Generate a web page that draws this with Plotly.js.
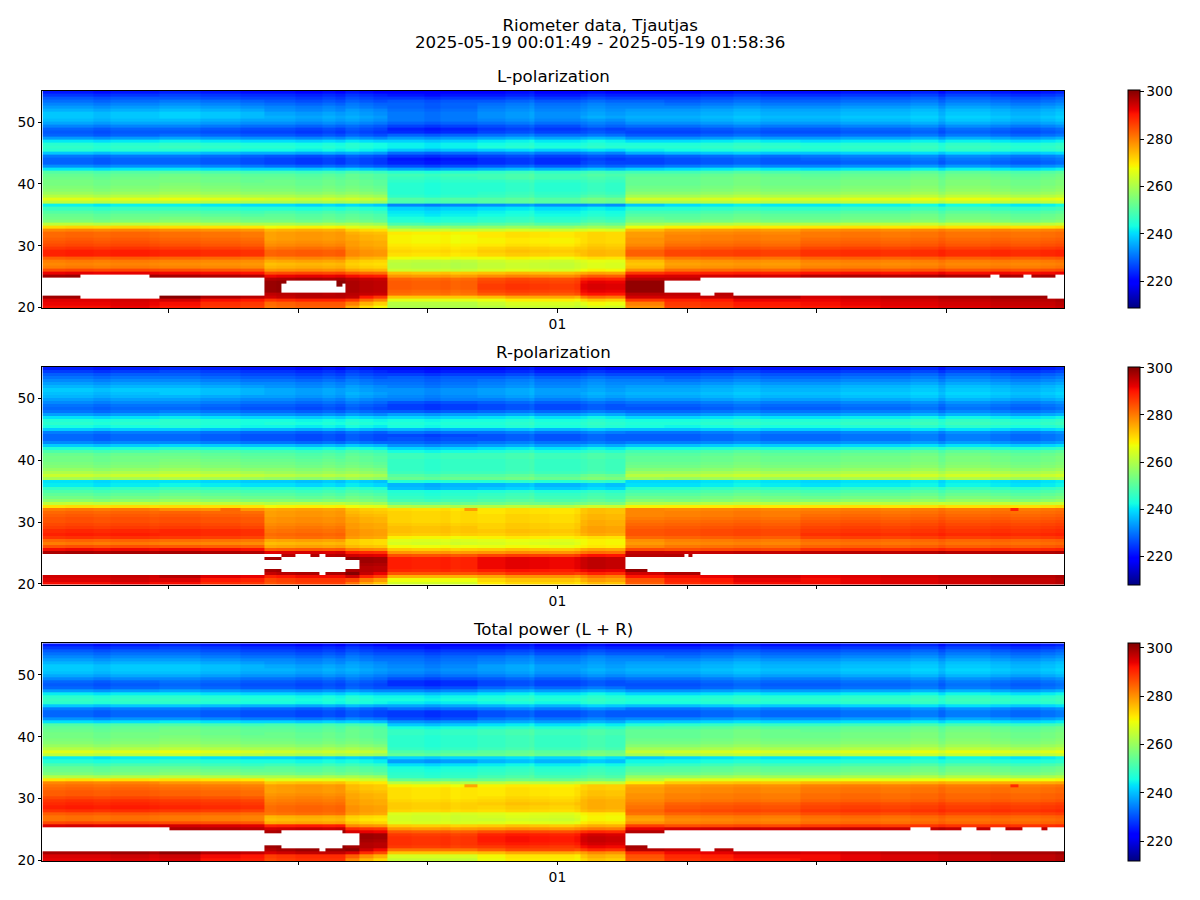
<!DOCTYPE html>
<html>
<head>
<meta charset="utf-8">
<script src="https://cdn.plot.ly/plotly-3.0.1.min.js"></script>
<style>html,body{margin:0;padding:0;background:#fff}</style>
</head>
<body>
<div id="chart" style="width:1200px;height:900px"></div>
<script>
// Block edges in minutes after 2025-05-19 00:00
const blockEdges = [0.44,13.97,26.12,35.48,40.34,50.75,62.66,67.86,72.37,88.1,118.63];
const tickMinutes = [15,30,45,60,75,90,105];
const tickLabels = ['','','','01','','',''];
const colorRanges = {L:[208.6,300.5], R:[208,300.4], T:[211.7,302]};

// Fine vertical streaks seen in the picture: edges in minutes, then the temperature step of each streak
const stripeEdges = [0.44,3.1,6.34,8.31,12.82,13.97,18.71,23.34,26.12,27.5,29.7,32.82,34.33,35.48,37.1,38.72,
40.34,43.12,44.62,46.47,47.63,48.78,50.75,53.99,56.76,57.34,59.07,61.97,62.66,63.47,65.55,67.86,70.18,72.37,
76.54,80.35,83.48,88.1,92.73,97.35,100.82,104.06,104.87,110.07,112.39,115.86,117.59,118.63];
const coldShift = [0,0,-1,0,0,1,0,-1, 0,0,-1,0,-1, 2,1,0, 1,1,0,1,1,1, 1,2,3,1,1,1, 1,2,1, 0,0,-1,0,1,0, -1,0,0,1,-1,1,0,-1,0,1];
const warmShift = [0,0.5,0,0.5,0,0.5,0,-0.5, -0.5,0,0.5,0,0.5, 1,0,-0.5, 0.5,0,0,0.5,-0.5,0, -0.5,0.5,0,0,-0.5,0.5, -0.5,0.5,0, 0,0,-0.5,0,0.5,0, -0.5,0,-0.5,0,1,0,0.5,0,0.5,1];
const lowShift  = [0,0,0,1,0,3,0,-1, -1,0,1,1,1, 5,0,-3, 0,0,0,0,0,0, -1,1,1,1,1,0, -1,1,0, 0,0,-1,0,2,2, -3,-2,-1,-1,0,0,1,1,1,2];

// Temperature profile per block, top frequency row to bottom row
const L_0 = [222,225,228,230,232,234,236,238,238,237,
235,232,229,228,229,234,241,245,246,245,
238,231,229,229,233,241,250,252,253,254,
254,255,256,258,261,266,262,242,247,250,
252,253,255,262,271,279,282,282,283,284,
285,287,289,289,283,280,279,280,285,292,
298,298,298,298,298,298,298,298,293,292,
291];
const L_1 = [222,225,227,230,232,234,236,238,238,236,
234,231,228,227,229,234,241,245,246,244,
237,230,228,228,232,240,249,252,253,253,
254,255,256,258,261,266,261,241,246,249,
251,253,255,261,270,278,281,281,282,283,
284,286,288,288,282,279,278,279,284,291,
297,298,298,298,298,298,298,297,291,288,
287];
const L_2 = [221,224,226,228,230,232,233,235,236,235,
233,230,227,226,228,233,240,244,245,243,
236,228,226,226,230,239,248,251,252,253,
253,254,255,257,260,264,260,240,245,249,
251,252,254,260,268,275,277,277,277,278,
279,281,283,283,279,276,274,275,278,285,
292,297,299,299,299,299,296,295,288,283,
282];
const L_3 = [220,223,225,227,229,230,232,233,234,233,
231,228,226,225,227,232,239,243,243,241,
234,227,225,225,228,237,247,250,250,251,
251,252,253,255,258,262,258,238,244,247,
249,250,252,258,265,271,274,275,275,276,
276,277,278,278,275,272,271,272,275,282,
290,295,296,296,296,296,295,290,282,275,
271];
const L_4 = [219,221,224,227,228,228,229,230,230,230,
228,225,222,223,228,233,238,241,241,237,
229,224,221,222,226,234,244,247,246,245,
244,244,244,244,245,249,248,231,238,240,
241,243,244,248,256,263,269,268,268,268,
269,270,271,270,267,262,261,261,263,273,
277,282,283,283,283,282,281,273,266,261,
260];
const L_5 = [219,221,224,227,229,230,231,232,232,231,
229,226,224,225,229,234,240,242,243,238,
230,225,223,223,227,235,245,247,247,245,
244,244,244,245,246,249,249,232,239,241,
242,244,245,249,257,264,270,270,269,269,
270,272,273,272,268,264,263,263,265,274,
279,285,286,287,287,286,284,275,268,264,
262];
const L_6 = [219,222,225,228,230,231,232,233,234,232,
230,228,225,226,229,235,241,243,244,239,
231,226,224,225,228,236,246,248,247,246,
245,245,245,246,248,252,251,232,240,242,
243,245,247,251,258,265,271,271,271,271,
272,273,274,274,270,266,265,265,268,276,
283,289,292,293,293,292,290,281,272,267,
264];
const L_7 = [220,223,226,229,231,232,234,235,236,235,
233,230,227,226,228,233,240,244,245,242,
236,228,226,226,230,239,248,251,252,252,
252,253,254,256,259,264,260,238,245,248,
250,252,254,259,267,274,277,277,278,278,
279,281,283,283,278,274,273,274,278,287,
293,296,299,299,299,299,296,294,287,280,
278];
const L_8 = [221,224,227,229,231,233,235,236,237,236,
234,231,228,227,229,234,241,245,246,244,
238,230,228,228,232,241,249,252,253,253,
253,254,255,257,260,265,261,241,246,249,
251,252,254,261,269,277,279,280,280,281,
282,284,286,286,281,278,277,278,282,289,
294,296,297,297,297,297,296,295,290,288,
287];
const L_9 = [222,225,228,230,232,234,236,237,238,237,
235,232,229,228,230,235,241,245,246,245,
239,232,230,229,233,241,250,252,253,254,
254,255,256,258,261,266,262,242,247,250,
252,253,255,262,270,279,281,281,282,283,
284,286,288,288,283,280,279,280,284,291,
297,298,298,298,298,298,298,297,295,294,
293];

const R_0 = [222,225,228,230,232,234,236,238,237,236,
234,232,230,229,230,234,240,244,245,243,
238,231,229,229,232,238,244,249,252,253,
253,254,255,257,260,263,259,240,241,246,
249,251,253,256,262,270,280,282,283,284,
284,285,286,288,289,287,282,280,284,291,
297,298,298,298,298,298,298,298,294,293,
291];
const R_1 = [222,225,227,229,231,233,235,237,237,235,
233,231,229,228,230,234,240,244,244,243,
237,230,228,228,231,238,244,249,251,252,
253,254,255,257,260,263,259,239,241,246,
249,251,253,256,262,270,278,282,283,284,
284,285,286,288,288,286,281,279,283,291,
297,298,298,298,298,298,298,298,293,290,
288];
const R_2 = [221,224,226,228,230,232,233,235,235,234,
232,230,228,227,229,233,239,243,244,242,
236,229,227,227,230,237,243,248,250,251,
252,253,254,256,258,261,257,238,240,245,
248,250,252,255,261,268,276,277,277,278,
278,279,280,281,282,281,276,274,276,283,
293,296,298,298,298,298,298,296,290,286,
285];
const R_3 = [220,223,225,227,229,230,232,233,234,233,
231,229,227,226,228,232,238,242,243,241,
235,228,226,226,229,236,242,247,249,250,
250,251,252,254,256,259,256,237,239,244,
247,249,251,253,259,266,272,273,274,275,
275,276,276,277,277,276,271,271,273,279,
288,293,298,298,297,296,296,295,289,280,
276];
const R_4 = [219,221,224,227,228,229,230,232,232,231,
230,226,224,224,227,233,238,242,243,242,
235,229,225,226,228,232,238,242,246,246,
245,245,245,245,246,249,251,243,235,236,
243,244,245,247,252,260,270,271,271,271,
271,272,273,273,272,268,265,264,267,272,
277,284,289,289,289,289,288,284,275,267,
264];
const R_5 = [219,221,224,227,229,230,231,233,233,232,
230,227,225,225,228,233,239,242,243,242,
235,229,226,226,229,233,239,243,246,246,
245,245,245,245,246,249,251,243,235,237,
243,245,246,248,253,261,270,270,271,271,
271,272,272,273,272,269,266,265,267,273,
278,286,292,292,292,292,290,286,277,272,
270];
const R_6 = [219,222,225,228,230,231,232,233,234,233,
231,228,226,226,229,234,240,243,244,243,
236,230,227,227,229,234,240,244,247,247,
246,246,246,246,247,251,253,244,236,238,
244,246,247,249,254,263,273,273,274,274,
275,275,276,276,275,270,268,268,269,276,
281,290,295,295,295,295,292,288,280,276,
273];
const R_7 = [220,223,226,229,231,232,234,235,236,235,
233,230,228,227,229,233,239,243,244,243,
237,230,228,228,231,237,243,248,250,251,
251,252,253,255,258,261,258,239,240,245,
248,250,252,255,260,268,279,279,279,280,
281,282,283,284,284,282,278,277,279,285,
295,296,299,299,299,299,299,294,290,284,
283];
const R_8 = [221,224,227,229,231,233,235,236,237,236,
234,231,229,228,230,234,240,244,245,243,
238,231,229,229,232,238,244,249,251,252,
252,253,254,256,259,262,258,240,241,246,
249,251,253,255,261,269,279,280,280,281,
282,283,284,285,285,283,280,279,281,285,
295,297,298,298,298,298,298,298,292,290,
289];
const R_9 = [222,225,228,230,232,234,236,237,238,237,
235,232,230,229,231,235,241,245,246,244,
239,232,230,230,233,239,245,250,252,253,
253,254,255,257,260,263,259,240,241,246,
249,251,253,256,262,270,280,281,282,283,
284,285,286,287,288,286,282,281,283,288,
296,298,298,298,298,298,298,298,295,294,
294];

const T_0 = [225,228,231,233,235,237,239,241,241,240,
238,235,232,231,232,237,244,248,249,248,
241,234,232,232,236,243,252,254,255,256,
256,257,258,260,263,268,264,244,247,251,
254,255,257,263,272,281,283,284,285,285,
287,289,290,291,289,285,283,283,287,295,
299,299,299,299,299,299,299,299,299,295,
294];
const T_1 = [225,228,230,232,234,236,238,240,240,239,
237,234,232,231,232,237,243,247,248,247,
240,233,231,231,235,243,251,254,255,255,
256,257,258,260,263,268,264,243,247,250,
253,255,257,263,272,279,282,283,284,284,
286,288,289,290,288,284,282,282,286,295,
298,299,299,299,299,299,299,299,298,293,
292];
const T_2 = [224,227,229,231,233,235,236,238,239,238,
236,233,231,230,231,236,242,246,247,246,
239,232,230,230,234,242,251,253,254,255,
255,256,257,259,262,266,262,242,246,250,
253,254,256,262,268,275,279,279,279,280,
281,282,283,284,284,283,277,276,278,291,
296,299,300,300,300,300,300,299,296,289,
288];
const T_3 = [223,226,228,230,232,233,235,236,237,236,
234,232,230,229,230,235,241,245,246,245,
238,231,229,229,233,240,249,252,253,253,
253,254,255,257,260,264,260,240,244,248,
251,252,254,260,266,272,275,275,276,277,
277,278,278,279,279,278,273,272,274,280,
289,294,300,300,299,298,298,296,290,280,
276];
const T_4 = [222,224,227,229,231,232,233,234,235,234,
232,229,226,226,229,234,240,244,245,243,
237,232,227,227,229,235,240,245,248,248,
247,247,247,247,248,251,253,241,236,242,
245,246,247,248,254,263,270,272,272,272,
272,273,274,274,273,267,266,266,267,274,
279,285,288,289,289,289,288,283,275,267,
265];
const T_5 = [222,224,227,229,232,233,234,236,236,235,
233,230,228,228,231,236,242,245,246,244,
238,233,229,229,232,236,242,246,249,249,
248,248,248,248,249,252,253,241,238,243,
246,247,248,250,255,264,271,272,272,272,
273,274,275,274,273,268,267,266,268,275,
280,287,291,292,292,291,289,286,277,271,
270];
const T_6 = [222,225,228,230,233,234,235,236,237,236,
234,231,229,229,232,237,243,246,247,246,
240,234,230,230,233,237,243,247,250,250,
249,249,249,249,250,254,255,242,239,244,
247,248,249,251,256,265,274,274,275,275,
276,277,277,277,276,271,270,270,272,277,
282,290,295,296,296,295,293,289,280,276,
274];
const T_7 = [223,226,229,231,234,235,237,238,239,238,
236,233,231,230,231,236,242,246,247,246,
240,233,231,231,235,241,247,252,254,254,
254,255,256,258,261,265,261,241,245,248,
252,253,255,260,264,271,278,279,279,280,
280,281,282,283,284,283,279,278,280,288,
294,298,299,299,299,299,299,298,290,286,
285];
const T_8 = [224,227,230,232,234,236,238,239,240,239,
237,234,232,231,232,237,243,247,248,247,
241,234,232,232,236,242,249,253,255,255,
255,256,257,259,262,267,263,243,246,250,
253,254,256,261,268,275,280,281,281,282,
282,283,285,286,287,285,282,281,282,287,
296,298,299,299,299,299,298,298,294,291,
290];
const T_9 = [225,228,231,233,235,237,239,240,241,240,
238,235,233,232,233,238,244,248,249,248,
242,235,233,233,237,243,250,254,255,256,
256,257,258,260,263,268,264,244,247,251,
254,255,257,262,269,277,282,283,283,284,
284,285,287,288,289,287,284,283,284,289,
297,299,299,299,299,299,299,299,298,296,
296];

// Missing stretches: first row, last row, start minute, end minute
const L_gaps = [[60,60,4.84,12.82],[61,66,0.44,26.12],[67,67,4.84,13.97],
[62,62,28.66,34.44],[63,63,28.08,34.44],[63,63,35.14,35.48],[64,65,28.08,35.48],
[61,61,76.54,118.63],[62,65,72.37,118.63],[66,66,76.54,78.16],[66,66,80.35,118.63],
[67,67,116.67,118.63],[60,60,110.07,111.1],[60,60,113.89,114.82],[60,60,117.59,118.63]];
const R_gaps = [[61,67,0.44,26.12],[61,61,26.12,28.08],[63,65,26.12,28.08],[62,66,28.08,29.7],
[61,66,29.7,31.44],[62,66,31.44,32.48],[61,67,32.48,33.17],[62,66,33.17,35.48],[63,65,35.48,37.1],
[62,65,67.86,118.63],[66,66,70.41,118.63],[67,67,76.54,118.63],[61,61,74.69,75.15],[61,61,75.61,118.63]];
const T_gaps = [[60,60,0.44,15.13],[61,67,0.44,26.12],[62,65,26.12,28.08],[61,66,28.08,35.14],
[67,67,32.48,33.17],[62,65,35.14,37.1],[62,65,67.86,118.63],[66,66,70.41,118.63],[61,61,72.37,118.63],
[67,67,76.54,78.16],[67,67,80.35,118.63],[60,60,100.82,103.14],[60,60,106.72,108.46],
[60,60,110.07,111.81],[60,60,113.78,115.97],[60,60,116.67,118.63]];
// Isolated cells: row, start minute, end minute, temperature
const L_spots = [];
const R_spots = [[46,21.03,23.34,282],[46,49.25,50.75,277],[46,112.39,113.3,289]];
const T_spots = [[46,49.25,50.75,278],[46,112.39,113.3,290]];

function stamp(m){
  const s = Math.round(m*60), p = n => String(n).padStart(2,'0');
  return '2025-05-19 '+p(Math.floor(s/3600))+':'+p(Math.floor(s/60)%60)+':'+p(s%60);
}
function grid(profiles,gaps,spots){
  const set = new Set(blockEdges.concat(stripeEdges));
  gaps.forEach(g=>{set.add(g[2]);set.add(g[3]);});
  spots.forEach(g=>{set.add(g[1]);set.add(g[2]);});
  const edges = [...set].sort((a,b)=>a-b);
  const z = [];
  for(let k=70;k>=0;k--){
    const row=[];
    for(let c=0;c<edges.length-1;c++){
      const mid=(edges[c]+edges[c+1])/2;
      let b=0; while(mid>blockEdges[b+1]) b++;
      let st=0; while(mid>stripeEdges[st+1]) st++;
      const step = k<44 ? coldShift[st] : (k<67 ? warmShift[st] : lowShift[st]);
      let v=profiles[b][k]+step;
      gaps.forEach(g=>{ if(k>=g[0]&&k<=g[1]&&mid>g[2]&&mid<g[3]) v=null; });
      spots.forEach(g=>{ if(k===g[0]&&mid>g[1]&&mid<g[2]) v=g[3]; });
      row.push(v);
    }
    z.push(row);
  }
  return {x:edges.map(stamp),z};
}
const jet = [[0,'rgb(0,0,128)'],[0.11,'rgb(0,0,255)'],[0.125,'rgb(0,0,255)'],[0.34,'rgb(0,219,255)'],
[0.35,'rgb(0,230,247)'],[0.375,'rgb(21,255,226)'],[0.64,'rgb(238,255,8)'],[0.65,'rgb(247,245,0)'],
[0.66,'rgb(255,236,0)'],[0.89,'rgb(255,19,0)'],[0.91,'rgb(232,0,0)'],[1,'rgb(128,0,0)']];

const F = 'DejaVu Sans, sans-serif';
const H = 900, W = 1200;
const panels = [
 {p:[L_0,L_1,L_2,L_3,L_4,L_5,L_6,L_7,L_8,L_9],g:L_gaps,s:L_spots,r:colorRanges.L,top:90.6,name:'L-polarization',ty:76.5},
 {p:[R_0,R_1,R_2,R_3,R_4,R_5,R_6,R_7,R_8,R_9],g:R_gaps,s:R_spots,r:colorRanges.R,top:367,name:'R-polarization',ty:352.5},
 {p:[T_0,T_1,T_2,T_3,T_4,T_5,T_6,T_7,T_8,T_9],g:T_gaps,s:T_spots,r:colorRanges.T,top:643.3,name:'Total power (L + R)',ty:629.5}
];
const plotH = 217.6;
const big = s => '<span style="font-size:16.67px">'+s+'</span>';
const traces=[], layout={
  width:W,height:H,margin:{l:0,r:0,t:0,b:0},paper_bgcolor:'#fff',plot_bgcolor:'#fff',
  font:{family:F,size:13.9,color:'#000'},showlegend:false,
  annotations:[
   {text:big('Riometer data, Tjautjas')+'<br>'+big('2025-05-19 00:01:49 - 2025-05-19 01:58:36'),xref:'paper',yref:'paper',x:0.5,y:1-33.5/H,xanchor:'center',yanchor:'middle',showarrow:false,font:{family:F,size:13,color:'#000'}}]
};
panels.forEach((P,i)=>{
  const n=i===0?'':String(i+1);
  const g=grid(P.p,P.g,P.s);
  const bottom=1-(P.top+plotH)/H, top=1-P.top/H;
  traces.push({type:'heatmap',x:g.x,z:g.z,y0:19.9+35.2/142,dy:35.2/71,zmin:P.r[0],zmax:P.r[1],
    colorscale:jet,xaxis:'x'+n,yaxis:'y'+n,hoverongaps:false,zsmooth:false,
    colorbar:{x:1128/W,xanchor:'left',xpad:0,ypad:0,y:(top+bottom)/2,yanchor:'middle',len:plotH/H,lenmode:'fraction',
      thickness:12,thicknessmode:'pixels',outlinewidth:1,outlinecolor:'#000',tick0:0,dtick:20,ticks:'outside',ticklen:3.5,
      tickwidth:1,tickcolor:'#000',tickfont:{family:F,size:13.9,color:'#000'}}});
  layout['xaxis'+n]={type:'date',domain:[42.4/W,1064.4/W],range:[stamp(blockEdges[0]),stamp(blockEdges[blockEdges.length-1])],
    anchor:'y'+n,tickmode:'array',tickvals:tickMinutes.map(stamp),ticktext:tickLabels,ticks:'outside',ticklen:3.5,tickwidth:1,tickcolor:'#000',
    showgrid:false,zeroline:false,showline:true,mirror:true,linecolor:'#000',linewidth:1,tickfont:{family:F,size:13.9,color:'#000'}};
  layout['yaxis'+n]={domain:[bottom,top],range:[19.9,55.1],anchor:'x'+n,tickmode:'array',tickvals:[20,30,40,50],ticks:'outside',ticklen:3.5,tickwidth:1,tickcolor:'#000',
    showgrid:false,zeroline:false,showline:true,mirror:true,linecolor:'#000',linewidth:1,tickfont:{family:F,size:13.9,color:'#000'}};
  layout.annotations.push({text:P.name,xref:'paper',yref:'paper',x:553/W,y:1-P.ty/H,xanchor:'center',yanchor:'middle',showarrow:false,font:{family:F,size:16.67,color:'#000'}});
});
Plotly.newPlot('chart',traces,layout,{displayModeBar:false,staticPlot:true});
</script>
</body>
</html>
